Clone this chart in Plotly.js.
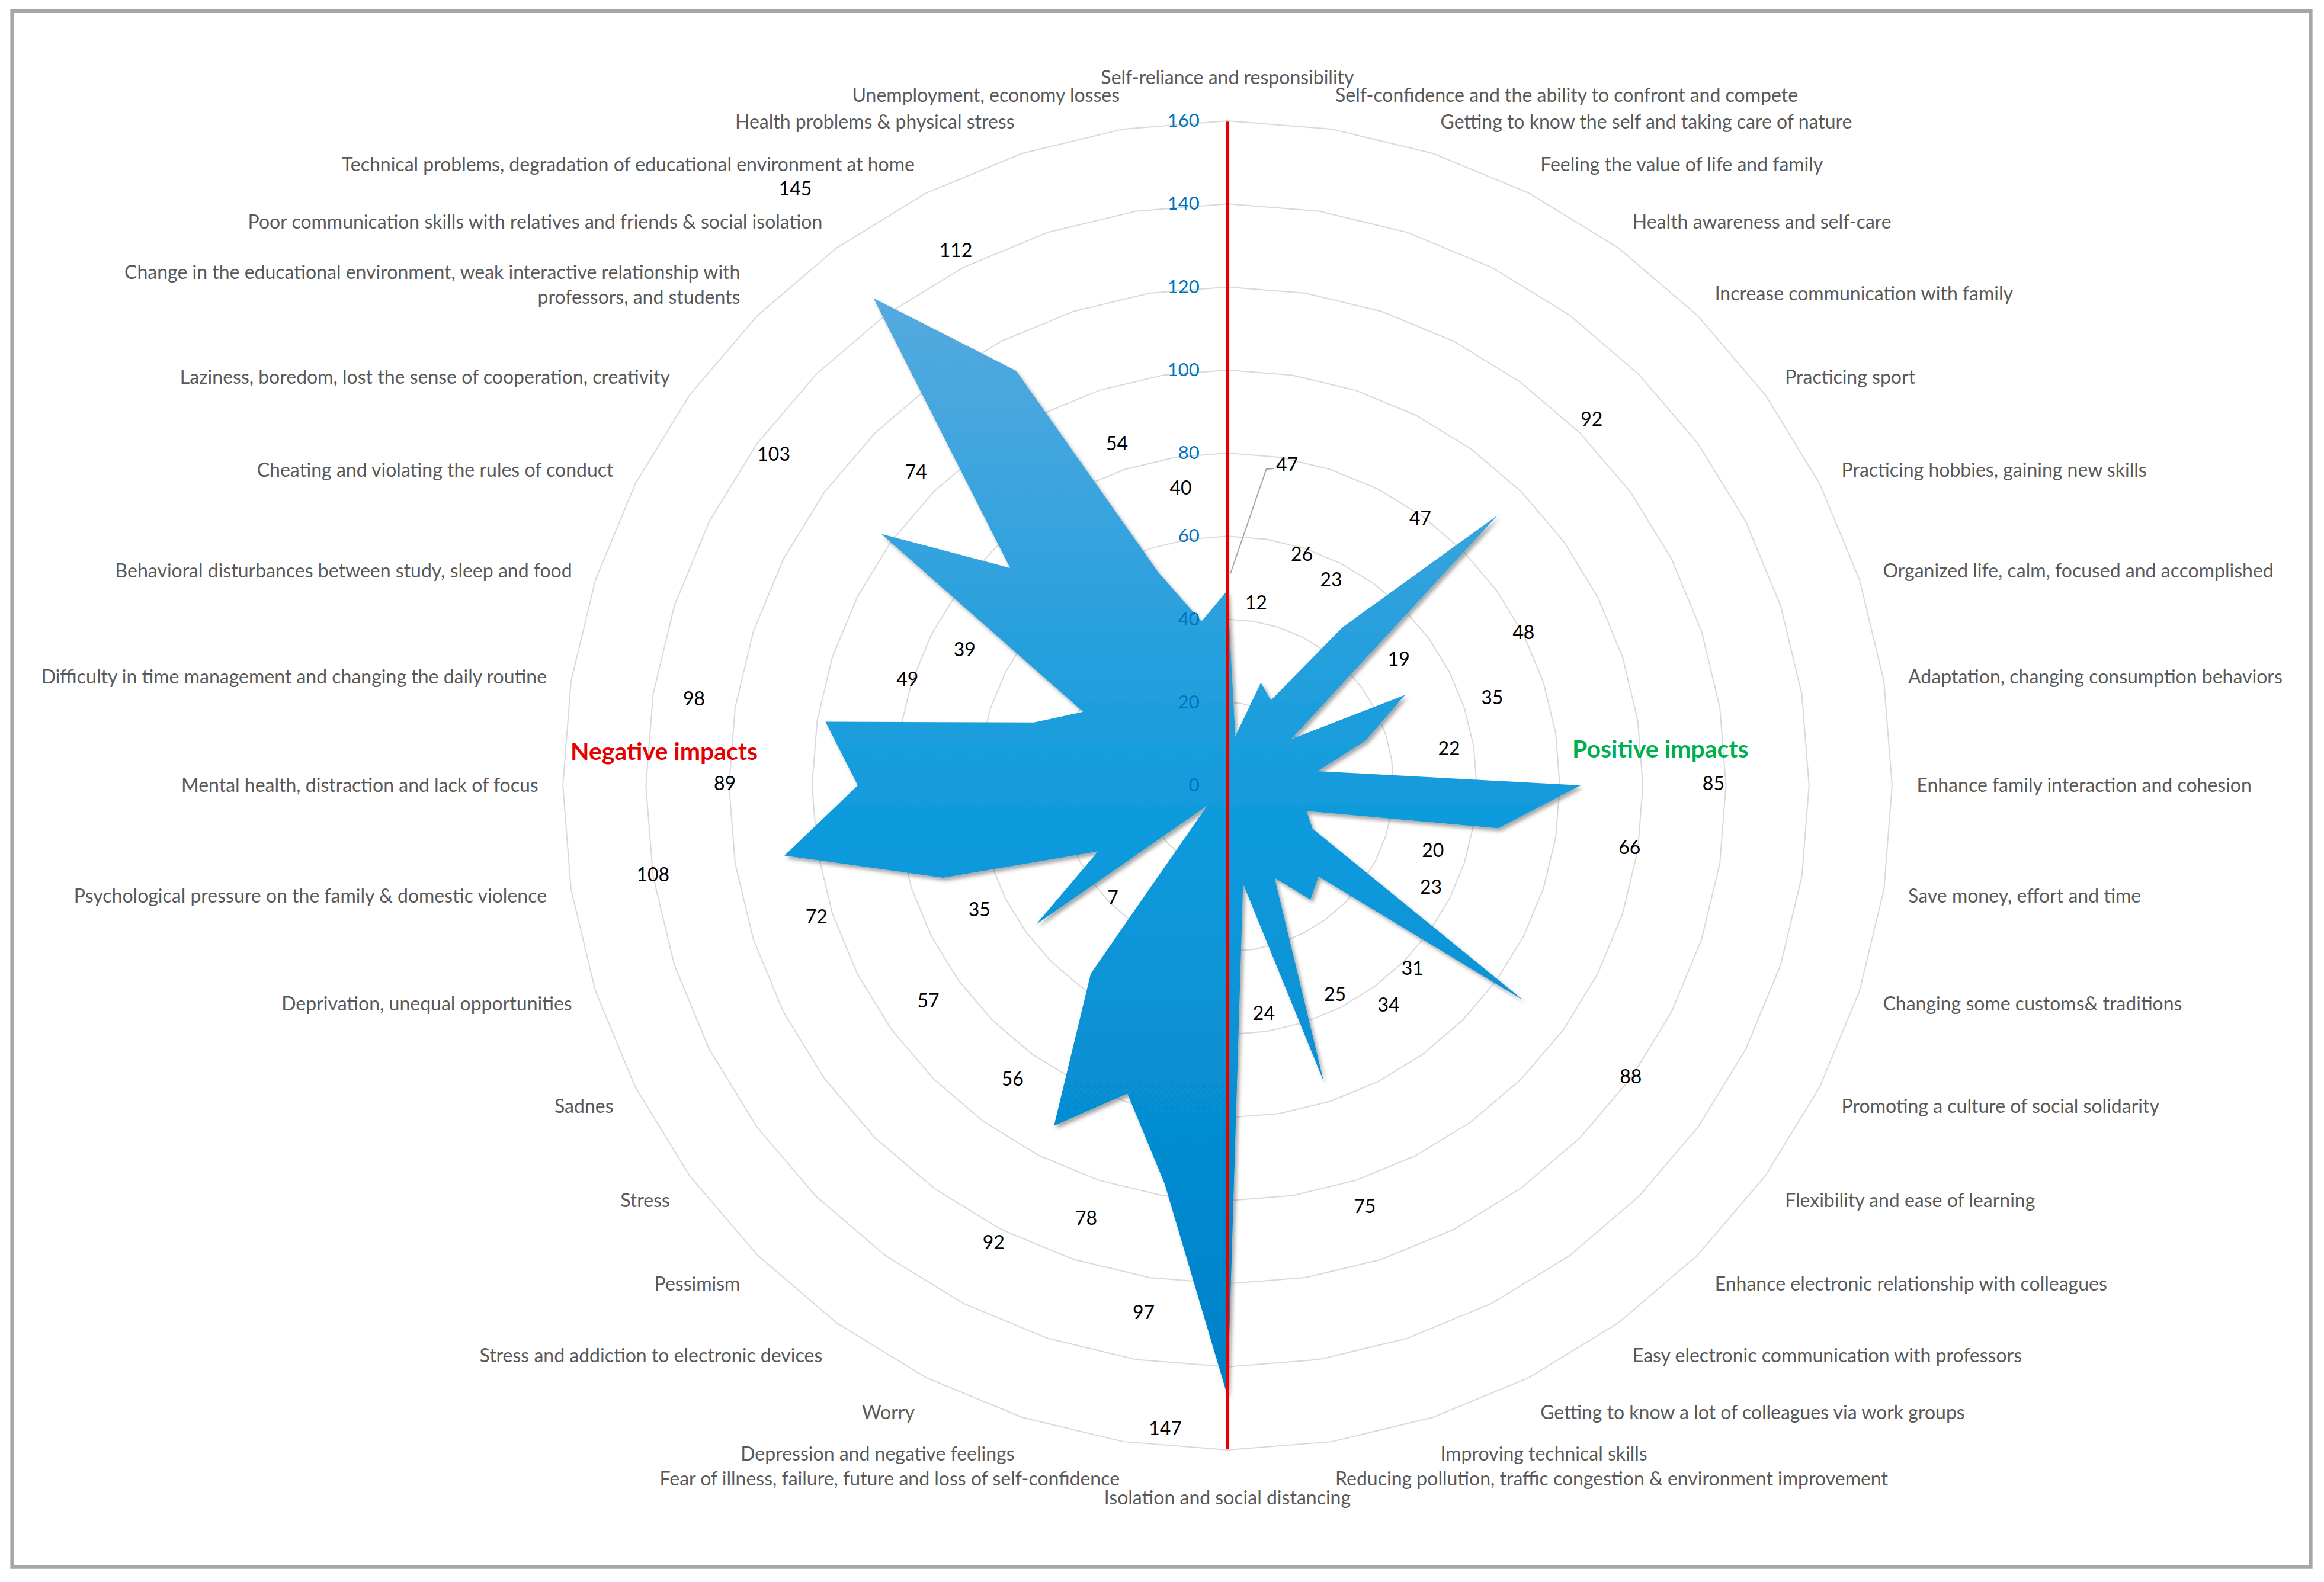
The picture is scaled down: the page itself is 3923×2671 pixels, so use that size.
<!DOCTYPE html>
<html>
<head>
<meta charset="utf-8">
<script src="https://cdn.plot.ly/plotly-3.0.1.min.js"></script>
<style>
  html, body { margin: 0; padding: 0; background: #ffffff; }
  #chart { width: 3923px; height: 2671px; }
</style>
</head>
<body>
<div id="chart"></div>
<script>
// Positive impacts, clockwise from the top
var positiveCats = [
  "Self-reliance and responsibility",
  "Self-confidence and the ability to confront and compete",
  "Getting to know the self and taking care of nature",
  "Feeling the value of life and family",
  "Health awareness and self-care",
  "Increase communication with family",
  "Practicing sport",
  "Practicing hobbies, gaining new skills",
  "Organized life, calm, focused and accomplished",
  "Adaptation, changing consumption behaviors",
  "Enhance family interaction and cohesion",
  "Save money, effort and time",
  "Changing some customs& traditions",
  "Promoting a culture of social solidarity",
  "Flexibility and ease of learning",
  "Enhance electronic relationship with colleagues",
  "Easy electronic communication with professors",
  "Getting to know a lot of colleagues via work groups",
  "Improving technical skills",
  "Reducing pollution, traffic congestion & environment improvement"
];
var positiveVals = [47, 12, 26, 23, 47, 92, 19, 48, 35, 22, 85, 66, 20, 23, 88, 31, 34, 25, 75, 24];

// Negative impacts, clockwise from the bottom
var negativeCats = [
  "Isolation and social distancing",
  "Fear of illness, failure, future and loss of self-confidence",
  "Depression and negative feelings",
  "Worry",
  "Stress and addiction to electronic devices",
  "Pessimism",
  "Stress",
  "Sadnes",
  "Deprivation, unequal opportunities",
  "Psychological pressure on the family & domestic violence",
  "Mental health, distraction and lack of focus",
  "Difficulty in time management and changing the daily routine",
  "Behavioral disturbances between study, sleep and food",
  "Cheating and violating the rules of conduct",
  "Laziness, boredom, lost the sense of cooperation, creativity",
  "Change in the educational environment, weak interactive relationship with<br>professors, and students",
  "Poor communication skills with relatives and friends & social isolation",
  "Technical problems, degradation of educational environment at home",
  "Health problems & physical stress",
  "Unemployment, economy losses"
];
var negativeVals = [147, 97, 78, 92, 56, 7, 57, 35, 72, 108, 89, 98, 49, 39, 103, 74, 145, 112, 54, 40];

var radialTicks = [0, 20, 40, 60, 80, 100, 120, 140, 160];

var cats = positiveCats.concat(negativeCats);
var vals = positiveVals.concat(negativeVals);
var step = 360 / cats.length;
var rMax = radialTicks[radialTicks.length - 1];

// data labels sit a little outside each point, two were moved by hand
var labelGap = 32;
var movedLabels = {
  0: { r: 78, theta: 10.6 },
  20: { r: 156, theta: 185.5 }
};
var labR = [], labT = [], labText = [];
vals.forEach(function (v, i) {
  var m = movedLabels[i];
  labR.push(m ? m.r : v + labelGap);
  labT.push(m ? m.theta : i * step);
  labText.push(String(v));
});

// the top and bottom category names sit a bit further out than the rest,
// so they are written separately and blanked on the axis
var poleIdx = [0, cats.length / 2];
var poleGap = [10, 12];
var tickText = cats.map(function (c, i) { return poleIdx.indexOf(i) < 0 ? c : ""; });

var font = "Lato, 'Open Sans', sans-serif";

// Area
var area = {
  type: "scatterpolar",
  subplot: "polar",
  r: vals.concat([vals[0]]),
  theta: cats.concat([cats[0]]),
  mode: "lines",
  fill: "toself",
  fillcolor: "#1e95d9",
  line: { color: "#1e95d9", width: 0 },
  hoverinfo: "skip"
};

// Red divider between positive and negative halves
var divider = {
  type: "scatterpolar",
  subplot: "polar",
  r: [rMax, 0, rMax],
  theta: [positiveCats[0], positiveCats[0], negativeCats[0]],
  mode: "lines",
  line: { color: "#e60000", width: 6 },
  hoverinfo: "skip"
};

// Value labels (free angles, on an overlaid linear polar with a longer range)
var labels = {
  type: "scatterpolar",
  subplot: "polar2",
  r: labR,
  theta: labT,
  mode: "text",
  text: labText,
  textposition: "middle center",
  textfont: { family: font, size: 32, color: "#000000" },
  cliponaxis: false,
  hoverinfo: "skip"
};

var poleNames = {
  type: "scatterpolar",
  subplot: "polar2",
  r: poleGap.map(function (g) { return rMax + g; }),
  theta: poleIdx.map(function (i) { return i * step; }),
  mode: "text",
  text: poleIdx.map(function (i) { return cats[i]; }),
  textposition: "middle center",
  textfont: { family: font, size: 32, color: "#595959" },
  cliponaxis: false,
  hoverinfo: "skip"
};

// leader line for the moved "47"
var leader = {
  type: "scatterpolar",
  subplot: "polar2",
  r: [vals[0] + 4, 76.7, 77.1],
  theta: [0.8, 7.0, 8.3],
  mode: "lines",
  line: { color: "#a6a6a6", width: 2 },
  cliponaxis: false,
  hoverinfo: "skip"
};

var data = [area, divider, leader, labels, poleNames];

// centre (2072, 1326) px, 160 -> 1122 px
var dom = { x: [0.24219, 0.81417], y: [0.08348, 0.92363] };
var dom2 = { x: [0.20641, 0.84992], y: [0.03098, 0.97613] };

var layout = {
  width: 3923,
  height: 2671,
  margin: { l: 0, r: 0, t: 0, b: 0 },
  paper_bgcolor: "#ffffff",
  showlegend: false,
  font: { family: font, size: 32, color: "#595959" },
  polar: {
    domain: dom,
    bgcolor: "rgba(0,0,0,0)",
    gridshape: "linear",
    radialaxis: {
      range: [0, rMax],
      tickvals: radialTicks,
      showgrid: true,
      gridcolor: "#d9d9d9",
      gridwidth: 2,
      showline: false,
      ticks: "outside",
      ticklen: 36,
      tickcolor: "rgba(0,0,0,0)",
      angle: 90,
      side: "counterclockwise",
      tickangle: 90,
      tickfont: { family: font, size: 31, color: "#0070c0" },
      layer: "above traces"
    },
    angularaxis: {
      type: "category",
      categoryarray: cats,
      tickmode: "array",
      tickvals: cats,
      ticktext: tickText,
      rotation: 90,
      direction: "clockwise",
      showgrid: false,
      showline: true,
      linecolor: "#d9d9d9",
      linewidth: 2,
      ticks: "outside",
      ticklen: 34,
      tickcolor: "rgba(0,0,0,0)",
      tickfont: { family: font, size: 32, color: "#595959" }
    }
  },
  polar2: {
    domain: dom2,
    bgcolor: "rgba(0,0,0,0)",
    radialaxis: { range: [0, 180], visible: false },
    angularaxis: { rotation: 90, direction: "clockwise", visible: false }
  },
  annotations: [
    {
      xref: "paper", yref: "paper", x: 0.2857, y: 0.5256,
      xanchor: "center", yanchor: "middle",
      text: "<b>Negative impacts</b>", showarrow: false,
      font: { family: font, size: 41, color: "#e60000" }
    },
    {
      xref: "paper", yref: "paper", x: 0.7145, y: 0.5268,
      xanchor: "center", yanchor: "middle",
      text: "<b>Positive impacts</b>", showarrow: false,
      font: { family: font, size: 41, color: "#00b050" }
    }
  ],
  shapes: [
    {
      type: "rect", xref: "paper", yref: "paper",
      x0: 0.0052, x1: 0.9943, y0: 0.0095, y1: 0.9929,
      line: { color: "#a6a6a6", width: 6 }
    }
  ]
};

Plotly.newPlot("chart", data, layout, { staticPlot: true }).then(function (gd) {
  // Excel-like vertical gradient and soft shadow on the filled area
  var ns = "http://www.w3.org/2000/svg";
  var svg = gd.querySelector(".main-svg");
  var defs = document.createElementNS(ns, "defs");
  var grad = document.createElementNS(ns, "linearGradient");
  grad.setAttribute("id", "areaGrad");
  grad.setAttribute("x1", "0"); grad.setAttribute("y1", "0");
  grad.setAttribute("x2", "0"); grad.setAttribute("y2", "1");
  [["0", "#55aadf"], ["0.5", "#0c9adc"], ["1", "#0080c8"]].forEach(function (s) {
    var stop = document.createElementNS(ns, "stop");
    stop.setAttribute("offset", s[0]);
    stop.setAttribute("stop-color", s[1]);
    grad.appendChild(stop);
  });
  defs.appendChild(grad);
  var filt = document.createElementNS(ns, "filter");
  filt.setAttribute("id", "areaShadow");
  filt.setAttribute("x", "-5%"); filt.setAttribute("y", "-5%");
  filt.setAttribute("width", "110%"); filt.setAttribute("height", "110%");
  var ds = document.createElementNS(ns, "feDropShadow");
  ds.setAttribute("dx", "4"); ds.setAttribute("dy", "5");
  ds.setAttribute("stdDeviation", "3");
  ds.setAttribute("flood-color", "#000000");
  ds.setAttribute("flood-opacity", "0.35");
  filt.appendChild(ds);
  defs.appendChild(filt);
  svg.insertBefore(defs, svg.firstChild);

  var fillPath = gd.querySelector(".js-fill");
  if (fillPath) {
    fillPath.style.fill = "url(#areaGrad)";
    fillPath.setAttribute("filter", "url(#areaShadow)");
  }
});
</script>
</body>
</html>
